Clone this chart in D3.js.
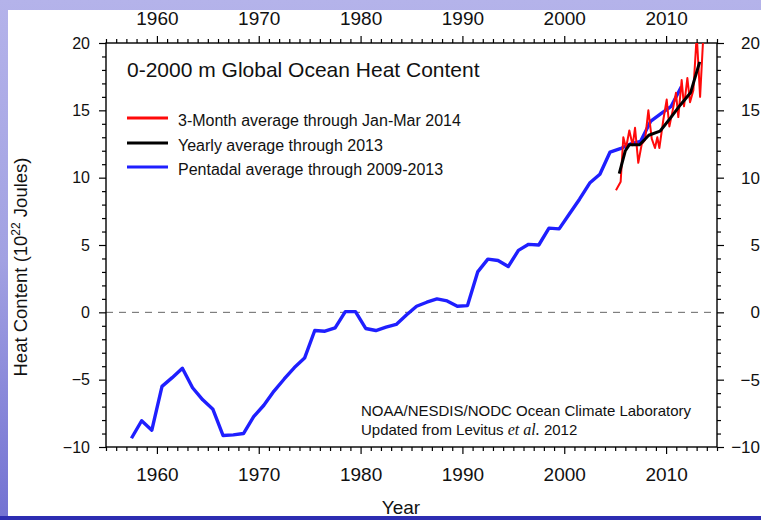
<!DOCTYPE html>
<html><head><meta charset="utf-8">
<script src="https://cdn.jsdelivr.net/npm/d3@7"></script>
<style>html,body{margin:0;padding:0;overflow:hidden;background:#fff}svg{display:block}</style>
</head><body><svg id="c" width="761" height="520"></svg>
<script>
// ---- data ----
const pentadYears = [1957.5,1958.5,1959.5,1960.5,1961.5,1962.5,1963.5,1964.5,1965.5,1966.5,
  1967.5,1968.5,1969.5,1970.5,1971.5,1972.5,1973.5,1974.5,1975.5,1976.5,
  1977.5,1978.5,1979.5,1980.5,1981.5,1982.5,1983.5,1984.5,1985.5,1986.5,
  1987.5,1988.5,1989.5,1990.5,1991.5,1992.5,1993.5,1994.5,1995.5,1996.5,
  1997.5,1998.5,1999.5,2000.5,2001.5,2002.5,2003.5,2004.5,2005.5,2006.5,
  2007.5,2008.5,2009.5,2010.5,2011.5];
const pentadValues = [-9.35,-8.05,-8.75,-5.5,-4.85,-4.15,-5.6,-6.5,-7.2,-9.15,
  -9.1,-9.0,-7.75,-6.9,-5.85,-4.95,-4.1,-3.4,-1.35,-1.4,
  -1.15,0.05,0.05,-1.2,-1.35,-1.1,-0.9,-0.2,0.45,0.75,
  1.0,0.85,0.45,0.5,3.0,3.95,3.85,3.4,4.6,5.05,
  5.0,6.25,6.2,7.3,8.4,9.6,10.25,11.9,12.15,12.5,
  12.7,14.2,14.75,15.3,16.75];
const yearlyYears = [2005.4,2006.0,2006.4,2007.4,2008.3,2009.4,2010.4,2011.4,2012.4,2013.3];
const yearlyValues = [10.3,12.0,12.45,12.45,13.15,13.45,14.4,15.4,16.3,18.6];
const monthlyYears = [2005.08,2005.54,2005.80,2006.07,2006.39,2006.72,2006.95,2007.27,2007.61,2007.93,
  2008.26,2008.59,2008.91,2009.14,2009.34,2009.73,2010.06,2010.32,2010.65,2010.97,
  2011.20,2011.53,2011.76,2012.09,2012.35,2012.68,2013.01,2013.34,2013.66];
const monthlyValues = [9.07,9.7,13.0,12.2,13.5,12.4,13.7,11.1,12.5,12.8,
  15.0,12.9,12.2,13.0,12.2,14.3,15.8,13.8,15.0,16.3,
  14.5,17.25,15.3,17.4,15.6,16.5,20.6,16.0,20.6];
const xTicks = [1960,1970,1980,1990,2000,2010];
const yTicks = [-10,-5,0,5,10,15,20];
const legendLabels = ["3-Month average through Jan-Mar 2014","Yearly average through 2013","Pentadal average through 2009-2013"];
const seriesColors = ["#ff0a0a","#000000","#1f1fff"];
const titleText = "0-2000 m Global Ocean Heat Content";
const creditLines = ["NOAA/NESDIS/NODC Ocean Climate Laboratory","Updated from Levitus "];

// ---- drawing ----
const svg = d3.select("#c");
const font = "'Liberation Sans', Arial, Helvetica, sans-serif";
const defs = svg.append("defs");
const g1 = defs.append("linearGradient").attr("id","bg").attr("x1",0).attr("y1",0).attr("x2",0).attr("y2",1);
g1.append("stop").attr("offset","0%").attr("stop-color","#b4b3ea");
g1.append("stop").attr("offset","50%").attr("stop-color","#a2a1e2");
g1.append("stop").attr("offset","100%").attr("stop-color","#7372d2");
svg.append("rect").attr("width",761).attr("height",520).attr("fill","url(#bg)");
svg.append("rect").attr("x",0).attr("y",516).attr("width",761).attr("height",4).attr("fill","#2d2db2");
svg.append("rect").attr("x",8).attr("y",10).attr("width",753).attr("height",506).attr("fill","#ffffff");

const L = 106, R = 717, T = 43, B = 447;
const x = d3.scaleLinear().domain([1955,2015]).range([L,R]);
const y = d3.scaleLinear().domain([-10,20]).range([B,T]);

defs.append("clipPath").attr("id","plot").append("rect")
  .attr("x",L).attr("y",T).attr("width",R-L).attr("height",B-T);

// zero dashed line
svg.append("line").attr("x1",L).attr("x2",R).attr("y1",y(0)).attr("y2",y(0))
  .attr("stroke","#666").attr("stroke-width",1).attr("stroke-dasharray","7,6");

const minorX = d3.range(1955,2016).filter(v => v % 10 !== 0);
const minorY = d3.range(-10,21).filter(v => v % 5 !== 0);

function styleAxis(sel, fs){
  sel.select(".domain").remove();
  sel.selectAll(".tick line").attr("stroke","#000").attr("stroke-width",1.2);
  sel.selectAll(".tick text").attr("fill","#111").style("font-family",font).style("font-size",fs+"px");
}
// bottom
svg.append("g").attr("transform",`translate(0,${B})`)
  .call(d3.axisBottom(x).tickValues(minorX).tickSize(4).tickFormat("")).call(s=>styleAxis(s,19));
svg.append("g").attr("transform",`translate(0,${B})`)
  .call(d3.axisBottom(x).tickValues(xTicks).tickSize(7).tickPadding(14).tickFormat(d3.format("d"))).call(s=>styleAxis(s,19));
// top
svg.append("g").attr("transform",`translate(0,${T})`)
  .call(d3.axisTop(x).tickValues(minorX).tickSize(4).tickFormat("")).call(s=>styleAxis(s,19));
svg.append("g").attr("transform",`translate(0,${T})`)
  .call(d3.axisTop(x).tickValues(xTicks).tickSize(7).tickPadding(11).tickFormat(d3.format("d"))).call(s=>styleAxis(s,19));
// left
svg.append("g").attr("transform",`translate(${L},0)`)
  .call(d3.axisLeft(y).tickValues(minorY).tickSize(4).tickFormat("")).call(s=>styleAxis(s,16));
svg.append("g").attr("transform",`translate(${L},0)`)
  .call(d3.axisLeft(y).tickValues(yTicks).tickSize(7).tickPadding(9).tickFormat(d3.format("d"))).call(s=>styleAxis(s,16));
// right
svg.append("g").attr("transform",`translate(${R},0)`)
  .call(d3.axisRight(y).tickValues(minorY).tickSize(4).tickFormat("")).call(s=>styleAxis(s,16));
svg.append("g").attr("transform",`translate(${R},0)`)
  .call(d3.axisRight(y).tickValues(yTicks).tickSize(7).tickPadding(36).tickFormat(d3.format("d")))
  .call(s=>{ styleAxis(s,17); s.selectAll(".tick text").attr("text-anchor","end"); });

// frame
svg.append("rect").attr("x",L).attr("y",T).attr("width",R-L).attr("height",B-T)
  .attr("fill","none").attr("stroke","#000").attr("stroke-width",1.4);

// series
const line = d3.line().x(d=>x(d[0])).y(d=>y(d[1]));
const plot = svg.append("g").attr("clip-path","url(#plot)");
plot.append("path").datum(pentadYears.map((v,i)=>[v,pentadValues[i]]))
  .attr("d",line).attr("fill","none").attr("stroke",seriesColors[2]).attr("stroke-width",3.4).attr("stroke-linejoin","round");
plot.append("path").datum(monthlyYears.map((v,i)=>[v,monthlyValues[i]]))
  .attr("d",line).attr("fill","none").attr("stroke",seriesColors[0]).attr("stroke-width",2).attr("stroke-linejoin","round");
plot.append("path").datum(yearlyYears.map((v,i)=>[v,yearlyValues[i]]))
  .attr("d",line).attr("fill","none").attr("stroke",seriesColors[1]).attr("stroke-width",3).attr("stroke-linejoin","round");

// title
svg.append("text").attr("x",127).attr("y",77).text(titleText)
  .style("font-family",font).style("font-size","21px").attr("fill","#111");

// legend
const legY = [118,143,167];
legendLabels.forEach((lab,i)=>{
  svg.append("line").attr("x1",127).attr("x2",168).attr("y1",legY[i]).attr("y2",legY[i])
    .attr("stroke",seriesColors[i]).attr("stroke-width",3);
  svg.append("text").attr("x",178).attr("y",legY[i]+8).text(lab)
    .style("font-family",font).style("font-size","16px").attr("fill","#111");
});

// credit
svg.append("text").attr("x",361).attr("y",416).text(creditLines[0])
  .style("font-family",font).style("font-size","15px").attr("fill","#111");
const c2 = svg.append("text").attr("x",361).attr("y",435)
  .style("font-family",font).style("font-size","15px").attr("fill","#111");
c2.append("tspan").text(creditLines[1]);
c2.append("tspan").text("et al.").style("font-style","italic").style("font-family","'Liberation Serif', 'Times New Roman', serif").style("font-size","16px");
c2.append("tspan").text(" 2012");

// axis titles
svg.append("text").attr("x",401).attr("y",514).attr("text-anchor","middle").text("Year")
  .style("font-family",font).style("font-size","19px").attr("fill","#111");
const yt = svg.append("text").attr("transform","translate(27,267) rotate(-90)").attr("text-anchor","middle")
  .style("font-family",font).style("font-size","18.5px").attr("fill","#111");
yt.append("tspan").text("Heat Content (10");
yt.append("tspan").text("22").attr("dy",-7).style("font-size","12px");
yt.append("tspan").text(" Joules)").attr("dy",7);
</script></body></html>
